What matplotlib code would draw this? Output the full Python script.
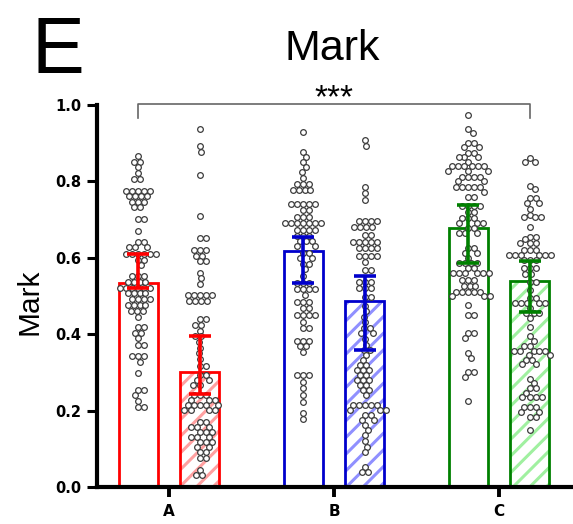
import numpy as np
import matplotlib
matplotlib.use("Agg")
import matplotlib.pyplot as plt

# ---------------- data ----------------
categories = ["A", "B", "C"]
bar_means_1 = [0.534, 0.618, 0.679]     # open bars
bar_means_2 = [0.302, 0.487, 0.540]     # hatched bars
err_low_1 = [0.522, 0.535, 0.587]
err_high_1 = [0.610, 0.655, 0.738]
err_low_2 = [0.243, 0.359, 0.459]
err_high_2 = [0.394, 0.553, 0.592]

a1 = [0.867, 0.852, 0.852, 0.837, 0.821, 0.806, 0.806,
      0.776, 0.776, 0.776, 0.776, 0.776, 0.762, 0.762, 0.762, 0.762,
      0.747, 0.747, 0.747, 0.732, 0.732, 0.701, 0.701, 0.671,
      0.642, 0.642, 0.629, 0.629, 0.629,
      0.610, 0.610, 0.610, 0.610, 0.610, 0.610, 0.594, 0.594, 0.580,
      0.552, 0.552, 0.552, 0.537, 0.537, 0.537, 0.537,
      0.522, 0.522, 0.522, 0.522, 0.522, 0.522, 0.507, 0.507, 0.507, 0.507,
      0.491, 0.491, 0.491, 0.491, 0.476, 0.476, 0.476, 0.476,
      0.462, 0.462, 0.462, 0.446, 0.418, 0.418, 0.404, 0.404, 0.389,
      0.372, 0.372, 0.343, 0.343, 0.343, 0.328, 0.299,
      0.254, 0.254, 0.241, 0.226, 0.210, 0.210]
a2 = [0.936, 0.893, 0.878, 0.817, 0.710, 0.651, 0.651,
      0.620, 0.620, 0.620, 0.606, 0.606, 0.591, 0.591, 0.561, 0.546, 0.531,
      0.503, 0.503, 0.503, 0.503, 0.503, 0.488, 0.488, 0.488, 0.488,
      0.439, 0.439, 0.424, 0.424, 0.409, 0.394, 0.394,
      0.380, 0.365, 0.350, 0.335, 0.318, 0.318, 0.293, 0.293, 0.280, 0.280,
      0.268, 0.268, 0.241, 0.241, 0.241, 0.228, 0.228, 0.228,
      0.215, 0.215, 0.215, 0.215, 0.215, 0.202, 0.202, 0.202, 0.202,
      0.171, 0.171, 0.158, 0.158, 0.158, 0.145, 0.145, 0.145,
      0.132, 0.132, 0.132, 0.119, 0.119, 0.119, 0.106, 0.106,
      0.092, 0.092, 0.075, 0.075, 0.045, 0.031, 0.031]
b1 = [0.930, 0.878, 0.865, 0.852, 0.838, 0.825, 0.808,
      0.792, 0.792, 0.792, 0.777, 0.777, 0.777, 0.777,
      0.741, 0.741, 0.741, 0.741, 0.741, 0.725, 0.725, 0.706, 0.706, 0.706,
      0.690, 0.690, 0.690, 0.690, 0.690, 0.690, 0.690,
      0.674, 0.674, 0.674, 0.674, 0.657, 0.657, 0.657, 0.643, 0.643, 0.643,
      0.630, 0.630, 0.613, 0.613, 0.600, 0.600, 0.585, 0.585, 0.570, 0.552,
      0.535, 0.535, 0.535, 0.518, 0.518, 0.518, 0.518, 0.503,
      0.485, 0.485, 0.485, 0.468, 0.468, 0.450, 0.450, 0.450, 0.450,
      0.433, 0.415, 0.415, 0.383, 0.383, 0.383, 0.369, 0.369, 0.354,
      0.293, 0.293, 0.293, 0.276, 0.258, 0.241, 0.223, 0.193, 0.177]
b2 = [0.908, 0.893, 0.786, 0.769, 0.751,
      0.696, 0.696, 0.696, 0.696, 0.681, 0.681, 0.681, 0.681, 0.660, 0.660,
      0.642, 0.642, 0.642, 0.642, 0.642, 0.625, 0.625, 0.625, 0.625,
      0.606, 0.606, 0.606, 0.606, 0.590, 0.568, 0.568,
      0.537, 0.537, 0.537, 0.520, 0.520, 0.520, 0.497, 0.497,
      0.475, 0.460, 0.446, 0.431, 0.416, 0.416, 0.403, 0.403, 0.388, 0.373,
      0.359, 0.359, 0.345, 0.332, 0.319, 0.319, 0.306, 0.306, 0.306,
      0.293, 0.293, 0.280, 0.280, 0.280, 0.267, 0.267, 0.254, 0.254, 0.241,
      0.215, 0.215, 0.215, 0.215, 0.215, 0.202, 0.202, 0.202,
      0.188, 0.188, 0.175, 0.175, 0.162, 0.149, 0.136, 0.120, 0.106, 0.092,
      0.053, 0.040, 0.040]
c1 = [0.974, 0.936, 0.927, 0.901, 0.901, 0.891, 0.891, 0.875, 0.875,
      0.863, 0.863, 0.863, 0.851, 0.840, 0.840, 0.840, 0.840, 0.840, 0.840,
      0.828, 0.828, 0.828, 0.811, 0.811, 0.811, 0.811, 0.800, 0.800,
      0.785, 0.785, 0.785, 0.785, 0.785, 0.773, 0.760, 0.760,
      0.736, 0.736, 0.736, 0.736, 0.720, 0.720, 0.703, 0.703, 0.703,
      0.690, 0.690, 0.690, 0.677, 0.677, 0.664, 0.664, 0.664,
      0.625, 0.625, 0.612, 0.612, 0.599, 0.586, 0.586, 0.586, 0.586,
      0.572, 0.572, 0.559, 0.559, 0.559, 0.559, 0.559, 0.559,
      0.542, 0.542, 0.542, 0.527, 0.527, 0.527,
      0.511, 0.511, 0.511, 0.511, 0.511, 0.500, 0.500, 0.500,
      0.476, 0.450, 0.450, 0.402, 0.402, 0.389, 0.350, 0.337,
      0.302, 0.302, 0.289, 0.226]
c2 = [0.861, 0.852, 0.852, 0.788, 0.780, 0.756, 0.756, 0.743, 0.743,
      0.728, 0.712, 0.707, 0.707, 0.707, 0.681, 0.655, 0.655, 0.648,
      0.639, 0.639, 0.639, 0.620, 0.620, 0.620,
      0.607, 0.607, 0.607, 0.607, 0.607, 0.607, 0.594, 0.594, 0.594,
      0.573, 0.573, 0.573, 0.558, 0.558, 0.537, 0.537, 0.516,
      0.494, 0.494, 0.481, 0.481, 0.481, 0.481, 0.481, 0.468,
      0.456, 0.456, 0.456, 0.442, 0.420, 0.395, 0.383, 0.369, 0.369,
      0.357, 0.357, 0.357, 0.357, 0.357, 0.346, 0.346, 0.332, 0.332,
      0.321, 0.321, 0.284, 0.273, 0.258, 0.258, 0.247,
      0.235, 0.235, 0.235, 0.235, 0.210, 0.210, 0.210,
      0.197, 0.197, 0.184, 0.184, 0.149]

points_1 = [a1, b1, c1]
points_2 = [a2, b2, c2]

edge_colors = ["#ff0000", "#0000cc", "#008000"]
hatch_colors = ["#ffa0a0", "#9090ff", "#a0f0a0"]

# ---------------- figure ----------------
W, H = 573, 524
fig = plt.figure(figsize=(W / 100, H / 100), dpi=100)
plt.rcParams["hatch.linewidth"] = 2.2

ax_left, ax_bottom, ax_top = 97, 487, 105
ax = fig.add_axes([ax_left / W, (H - ax_bottom) / H, 1 - ax_left / W,
                   (ax_bottom - ax_top) / H])

tickA, spacing = 169, 165.0
ax.set_xlim((ax_left - tickA) / spacing, (W - tickA) / spacing)
ax.set_ylim(0, 1.0)
XPX = spacing
YPX = ax_bottom - ax_top

off = 0.187
bw = 0.236
x = np.arange(len(categories))


def swarm(vals, D=5.9):
    vals = np.asarray(vals, float)
    py = vals * YPX
    order = np.argsort(-py, kind="stable")
    placed = []
    xs = np.zeros(len(vals))
    for i in order:
        y = py[i]
        near = [(px, pyy) for (px, pyy) in placed if abs(pyy - y) < D]
        cands = [0.0]
        for px, pyy in near:
            d = np.sqrt(max(D * D - (pyy - y) ** 2, 0))
            cands += [px + d, px - d]
        cands = sorted(cands, key=lambda c: (abs(c), -c))
        for c in cands:
            if all((c - px) ** 2 + (y - pyy) ** 2 >= D * D - 1e-6
                   for px, pyy in near):
                xs[i] = c
                break
        placed.append((xs[i], y))
    return xs / XPX


for i in range(3):
    c1x = x[i] - off
    c2x = x[i] + off
    ax.bar(c1x, bar_means_1[i], width=bw, facecolor="white",
           edgecolor=edge_colors[i], linewidth=2.0, zorder=2)
    ax.bar(c2x, bar_means_2[i], width=bw, facecolor="white",
           edgecolor=hatch_colors[i], linewidth=0, hatch="//", zorder=2)
    ax.bar(c2x, bar_means_2[i], width=bw, fill=False,
           edgecolor=edge_colors[i], linewidth=2.0, zorder=2.1)

    for cx, pts in ((c1x, points_1[i]), (c2x, points_2[i])):
        ax.plot(cx + swarm(pts), pts, linestyle="none", marker="o",
                markersize=4.1, markerfacecolor="white",
                markeredgecolor="#3c3c3c", markeredgewidth=0.9,
                zorder=3, clip_on=False)

    for cx, m, lo, hi in ((c1x, bar_means_1[i], err_low_1[i], err_high_1[i]),
                          (c2x, bar_means_2[i], err_low_2[i], err_high_2[i])):
        ax.errorbar(cx, m, yerr=[[m - lo], [hi - m]], fmt="none",
                    ecolor=edge_colors[i], elinewidth=2.6, capsize=7.8,
                    capthick=2.6, zorder=4)

for s in ("top", "right"):
    ax.spines[s].set_visible(False)
for s in ("left", "bottom"):
    ax.spines[s].set_linewidth(3.0)
    ax.spines[s].set_capstyle("projecting")

ax.set_yticks([0.0, 0.2, 0.4, 0.6, 0.8, 1.0])
ax.set_yticklabels(["0.0", "0.2", "0.4", "0.6", "0.8", "1.0"])
ax.set_xticks(x)
ax.set_xticklabels(categories)
ax.tick_params(axis="y", length=7.5, width=2.2, pad=3.5, labelsize=10.5)
ax.tick_params(axis="x", length=7.5, width=2.8, pad=5, labelsize=11)
for lab in ax.get_yticklabels() + ax.get_xticklabels():
    lab.set_fontweight("bold")
    lab.set_family("DejaVu Sans")

# significance bracket
by_top = (ax_bottom - 104) / YPX
by_leg = (ax_bottom - 118) / YPX
ax.plot([x[0] - off, x[0] - off, x[2] + off, x[2] + off],
        [by_leg, by_top, by_top, by_leg], color="#666666", lw=1.2,
        clip_on=False, zorder=5)
ax.text((x[0] - off + x[2] + off) / 2, (ax_bottom - 107) / YPX, "***",
        ha="center", va="baseline", fontsize=24, family="Liberation Sans",
        clip_on=False)

fig.text(332 / W, 1 - 60 / H, "Mark", ha="center", va="baseline",
         fontsize=31, family="Liberation Sans")
fig.text(31 / W, 1 - 73 / H, "E", ha="left", va="baseline",
         fontsize=57, family="Liberation Sans")
fig.text(37 / W, 1 - 302 / H, "Mark", ha="center", va="baseline",
         rotation=90, rotation_mode="anchor", fontsize=21.5,
         family="Liberation Sans")

fig.savefig("out.png", dpi=100)
